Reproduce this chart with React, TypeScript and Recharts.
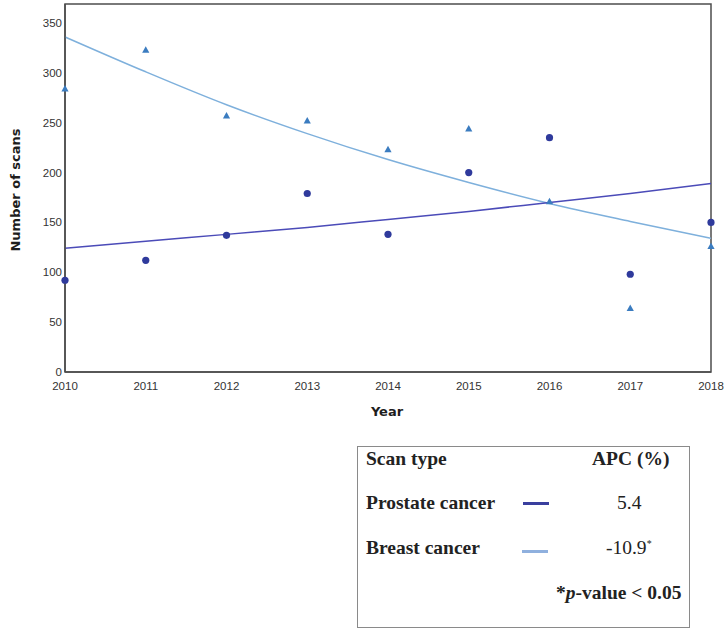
import React from "react";
import {
  ComposedChart,
  Line,
  Scatter,
  XAxis,
  YAxis,
  ReferenceArea,
} from "recharts";

const years = [2010, 2011, 2012, 2013, 2014, 2015, 2016, 2017, 2018];
const prostateScans = [92, 112, 137, 179, 138, 200, 235, 98, 150];
const breastScans = [284, 323, 257, 252, 223, 244, 171, 64, 126];
const prostateTrend = [124, 131, 138, 145, 153, 161, 170, 179, 189];
const breastTrend = [336, 301, 268, 239, 213, 190, 169, 151, 134];
const yTicks = [0, 50, 100, 150, 200, 250, 300, 350];

const rows = years.map((year, i) => ({
  year,
  prostate: prostateScans[i],
  breast: breastScans[i],
  prostateFit: prostateTrend[i],
  breastFit: breastTrend[i],
}));

const DOT = "#2f3a9c";
const TRI = "#3b7cc0";
const PROSTATE_LINE = "#4b4bb8";
const BREAST_LINE = "#7eb0dc";

const tickStyle = { fontSize: 11.5, fill: "#333333", fontFamily: "Liberation Sans, Arial, sans-serif" };
const axisTitle = { fontSize: 13, fontWeight: 700, fill: "#1e1e1e", fontFamily: "DejaVu Sans, sans-serif" };

const Circle = (props: any) => (
  <circle cx={props.cx} cy={props.cy} r={3.6} fill={DOT} />
);

const Triangle = (props: any) => {
  const { cx, cy } = props;
  const h = 6.5;
  return (
    <polygon
      points={`${cx},${cy - h / 2 - 0.5} ${cx - 3.6},${cy + h / 2 - 0.5} ${cx + 3.6},${cy + h / 2 - 0.5}`}
      fill={TRI}
    />
  );
};

// axis titles drawn by hand so they sit where the original has them
const YTitle = () => (
  <text x={20} y={190} transform="rotate(-90 20 190)" textAnchor="middle" style={axisTitle}>
    Number of scans
  </text>
);

const XTitle = () => (
  <text x={387} y={416} textAnchor="middle" style={axisTitle}>
    Year
  </text>
);

const serif = "Liberation Serif, 'Times New Roman', serif";

function Txt({ x, y, children, bold = true }: { x: number; y: number; children: any; bold?: boolean }) {
  return (
    <div
      style={{
        position: "absolute",
        left: x,
        top: y,
        fontFamily: serif,
        fontSize: 19.5,
        fontWeight: bold ? 700 : 400,
        color: "#222",
        whiteSpace: "nowrap",
        lineHeight: "22px",
      }}
    >
      {children}
    </div>
  );
}

export default function App() {
  return (
    <div style={{ position: "absolute", left: 0, top: 0, width: 724, height: 629, background: "#fff" }}>
      <ComposedChart
        width={724}
        height={420}
        data={rows}
        margin={{ top: 4, right: 13, left: 5, bottom: 18 }}
      >
        <XAxis
          dataKey="year"
          type="number"
          domain={[2010, 2018]}
          ticks={years}
          tick={tickStyle}
          tickLine={false}
          tickSize={6}
          tickMargin={4}
          height={30}
          stroke="#4d4d4d"
          strokeWidth={1.5}
          label={<XTitle />}
        />
        <YAxis
          type="number"
          domain={[0, 369]}
          ticks={yTicks}
          tick={tickStyle}
          tickLine={false}
          tickSize={0}
          tickMargin={3}
          width={60}
          stroke="#4d4d4d"
          strokeWidth={1.5}
          label={<YTitle />}
        />
        <ReferenceArea
          x1={2010}
          x2={2018}
          y1={0}
          y2={369}
          fill="none"
          stroke="#4d4d4d"
          strokeWidth={1.5}
          ifOverflow="visible"
        />
        <Line
          dataKey="breastFit"
          type="monotone"
          stroke={BREAST_LINE}
          strokeWidth={1.5}
          dot={false}
          isAnimationActive={false}
        />
        <Line
          dataKey="prostateFit"
          type="monotone"
          stroke={PROSTATE_LINE}
          strokeWidth={1.5}
          dot={false}
          isAnimationActive={false}
        />
        <Scatter dataKey="breast" shape={Triangle} isAnimationActive={false} />
        <Scatter dataKey="prostate" shape={Circle} isAnimationActive={false} />
      </ComposedChart>

      <div
        style={{
          position: "absolute",
          left: 357,
          top: 446,
          width: 331,
          height: 180,
          border: "1px solid #8a8a8a",
        }}
      />
      <Txt x={366} y={448}>Scan type</Txt>
      <Txt x={592} y={448}>APC (%)</Txt>
      <Txt x={366} y={492}>Prostate cancer</Txt>
      <div style={{ position: "absolute", left: 523, top: 502, width: 26, height: 3, background: "#3a3f9e" }} />
      <Txt x={617} y={492} bold={false}>5.4</Txt>
      <Txt x={606} y={537} bold={false}>
        -10.9<sup style={{ fontSize: 10, verticalAlign: "top", position: "relative", top: -4 }}>*</sup>
      </Txt>
      <Txt x={366} y={537}>Breast cancer</Txt>
      <div style={{ position: "absolute", left: 522, top: 550, width: 26, height: 3, background: "#8fb0de" }} />
      <Txt x={556} y={582}>
        *<i>p</i>-value &lt; 0.05
      </Txt>
    </div>
  );
}
